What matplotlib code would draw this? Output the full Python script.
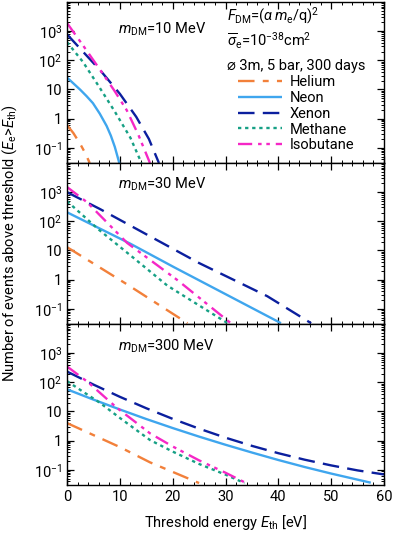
import numpy as np
import matplotlib
matplotlib.use("Agg")
import matplotlib.pyplot as plt
from matplotlib.ticker import LogLocator, MultipleLocator, NullFormatter, FixedLocator, FixedFormatter

plt.rcParams['font.family'] = ['Roboto', 'DejaVu Sans']
plt.rcParams['mathtext.fontset'] = 'custom'
plt.rcParams['mathtext.rm'] = 'Roboto'
plt.rcParams['mathtext.it'] = 'Roboto:italic'
plt.rcParams['mathtext.bf'] = 'Roboto:bold'

# ---------------- data ----------------
masses = ["10", "30", "300"]
gases = ["Helium", "Neon", "Xenon", "Methane", "Isobutane"]

# m_DM = 10 MeV
he_10_E = [0, 1.2, 2.45, 3.4, 4.3]
he_10_N = [0.60, 0.32, 0.14, 0.068, 0.030]
ne_10_E = [0, 1.2, 2.5, 3.7, 4.9, 6.2, 7.5, 8.3, 9.05, 9.9]
ne_10_N = [25.7, 16.2, 9.8, 5.9, 3.4, 1.48, 0.56, 0.26, 0.107, 0.030]
xe_10_E = [0, 3, 6.5, 10, 13.1, 15.5, 17.4]
xe_10_N = [780, 200, 41, 7.1, 1.15, 0.2, 0.030]
me_10_E = [0, 3, 6, 9, 12, 14.1]
me_10_N = [420, 89, 13, 1.8, 0.22, 0.030]
ib_10_E = [0, 3, 6.5, 9, 11.3, 13.5, 15.7]
ib_10_N = [1900, 330, 41, 8.9, 1.95, 0.28, 0.030]

# m_DM = 30 MeV
he_30_E = [0, 11.4, 22.8]
he_30_N = [13, 0.68, 0.032]
ne_30_E = [0, 12, 20.2, 40.5]
ne_30_N = [204, 17, 2.7, 0.032]
xe_30_E = [0, 6.3, 25, 37.9, 46.2]
xe_30_N = [1000, 260, 3.7, 0.27, 0.032]
me_30_E = [0, 3, 6, 12, 19, 25, 30.4]
me_30_N = [490, 160, 52, 6.8, 0.62, 0.13, 0.032]
ib_30_E = [0, 3.8, 11.4, 21, 31]
ib_30_N = [1500, 450, 18, 0.93, 0.032]

# m_DM = 300 MeV
he_300_E = [0, 10, 15.7, 25]
he_300_N = [4.0, 0.60, 0.18, 0.035]
ne_300_E = [0, 5, 10, 15, 20, 25, 30, 35, 40, 45, 50, 57.5]
ne_300_N = [57.5, 25.5, 11.7, 5.5, 2.7, 1.37, 0.72, 0.39, 0.216, 0.124, 0.074, 0.036]
xe_300_E = [0, 5, 10, 15, 20, 25, 30, 35, 40, 45, 50, 55, 60]
xe_300_N = [234, 83.6, 31.8, 12.9, 5.57, 2.57, 1.26, 0.66, 0.37, 0.221, 0.141, 0.095, 0.069]
me_300_E = [0, 3, 6.2, 10, 15.7, 20, 25, 30, 33.6]
me_300_N = [110, 48, 20, 6.0, 1.05, 0.42, 0.158, 0.068, 0.035]
ib_300_E = [0, 4, 9.4, 12.5, 15.7, 20, 25, 30, 33.9]
ib_300_N = [350, 100, 13.5, 5.0, 1.78, 0.63, 0.21, 0.079, 0.035]

panels = [
    [(he_10_E, he_10_N), (ne_10_E, ne_10_N), (xe_10_E, xe_10_N), (me_10_E, me_10_N), (ib_10_E, ib_10_N)],
    [(he_30_E, he_30_N), (ne_30_E, ne_30_N), (xe_30_E, xe_30_N), (me_30_E, me_30_N), (ib_30_E, ib_30_N)],
    [(he_300_E, he_300_N), (ne_300_E, ne_300_N), (xe_300_E, xe_300_N), (me_300_E, me_300_N), (ib_300_E, ib_300_N)],
]

y_ticks = [0.1, 1, 10, 100, 1000]
y_ticklabels = [r'$10^{-1}$', '1', '10', r'$10^2$', r'$10^3$']
x_ticks = [0, 10, 20, 30, 40, 50, 60]

# ---------------- styles ----------------
colors = ["#F2803A", "#3FA6EE", "#0B1F9E", "#16A085", "#F527C6"]
styles = [(0, (7, 3.5, 2.5, 3.5)), '-', (0, (7, 3.5)), (0, (1.4, 1.6)), (0, (6, 2.5, 1.5, 2, 1.5, 2.5))]
lw = 1.7

fig = plt.figure(figsize=(3.95, 5.37), dpi=100)
left, right = 67 / 395, 384 / 395
tops = [2, 163, 324]
h = 161
axes = []
for i in range(3):
    top = 1 - tops[i] / 537
    ax = fig.add_axes([left, top - h / 537, right - left, h / 537])
    axes.append(ax)

label_y = [0.83, 0.865, 0.86]
for i, ax in enumerate(axes):
    for j, (E, N) in enumerate(panels[i]):
        ax.plot(E, N, color=colors[j], ls=styles[j], lw=lw, label=gases[j],
                solid_capstyle='butt', dash_capstyle='butt')
    ax.set_yscale('log')
    ax.set_ylim(0.03, 1e4)
    ax.set_xlim(0, 60)
    ax.yaxis.set_major_locator(FixedLocator(y_ticks))
    ax.yaxis.set_major_formatter(FixedFormatter(y_ticklabels))
    ax.yaxis.set_minor_locator(LogLocator(base=10, subs=np.arange(2, 10), numticks=20))
    ax.yaxis.set_minor_formatter(NullFormatter())
    ax.xaxis.set_major_locator(FixedLocator(x_ticks))
    ax.xaxis.set_minor_locator(MultipleLocator(2))
    ax.tick_params(which='both', direction='in', top=True, right=True, labelsize=10.5)
    ax.tick_params(which='major', length=5, width=0.9)
    ax.tick_params(which='minor', length=2.5, width=0.7)
    for sp in ax.spines.values():
        sp.set_linewidth(1.0)
    if i < 2:
        ax.tick_params(labelbottom=False)
    ax.text(0.16, label_y[i], r'$m_{\rm DM}$=' + masses[i] + ' MeV', transform=ax.transAxes,
            fontsize=10.5, va='center', ha='left')

ax0 = axes[0]
ax0.text(0.506, 0.915, r'$F_{\rm DM}$=($\alpha\,m_{\rm e}$/q)$^2$', transform=ax0.transAxes,
         fontsize=10.5, va='center', ha='left')
ax0.text(0.506, 0.76, r'$\overline{\sigma}_{\rm e}$=10$^{-38}$cm$^2$', transform=ax0.transAxes,
         fontsize=10.5, va='center', ha='left')
ax0.text(0.506, 0.605, '\u2300 3m, 5 bar, 300 days', transform=ax0.transAxes,
         fontsize=10.5, va='center', ha='left')
ax0.legend(loc='upper left', bbox_to_anchor=(0.54, 0.545), frameon=False, fontsize=10.5,
           handlelength=3.0, handletextpad=0.55, labelspacing=0.12, borderpad=0, borderaxespad=0)

axes[2].set_xticklabels([str(x) for x in x_ticks])
fig.text((left + right) / 2, 1 - 523 / 537, r'Threshold energy $E_{\rm th}$ [eV]', ha='center', va='center', fontsize=10.5)
fig.text(10 / 395, 1 - 243 / 537, r'Number of events above threshold ($E_{\rm e}$>$E_{\rm th}$)',
         rotation=90, ha='center', va='center', fontsize=10.5)

fig.savefig('out.png', dpi=100)
